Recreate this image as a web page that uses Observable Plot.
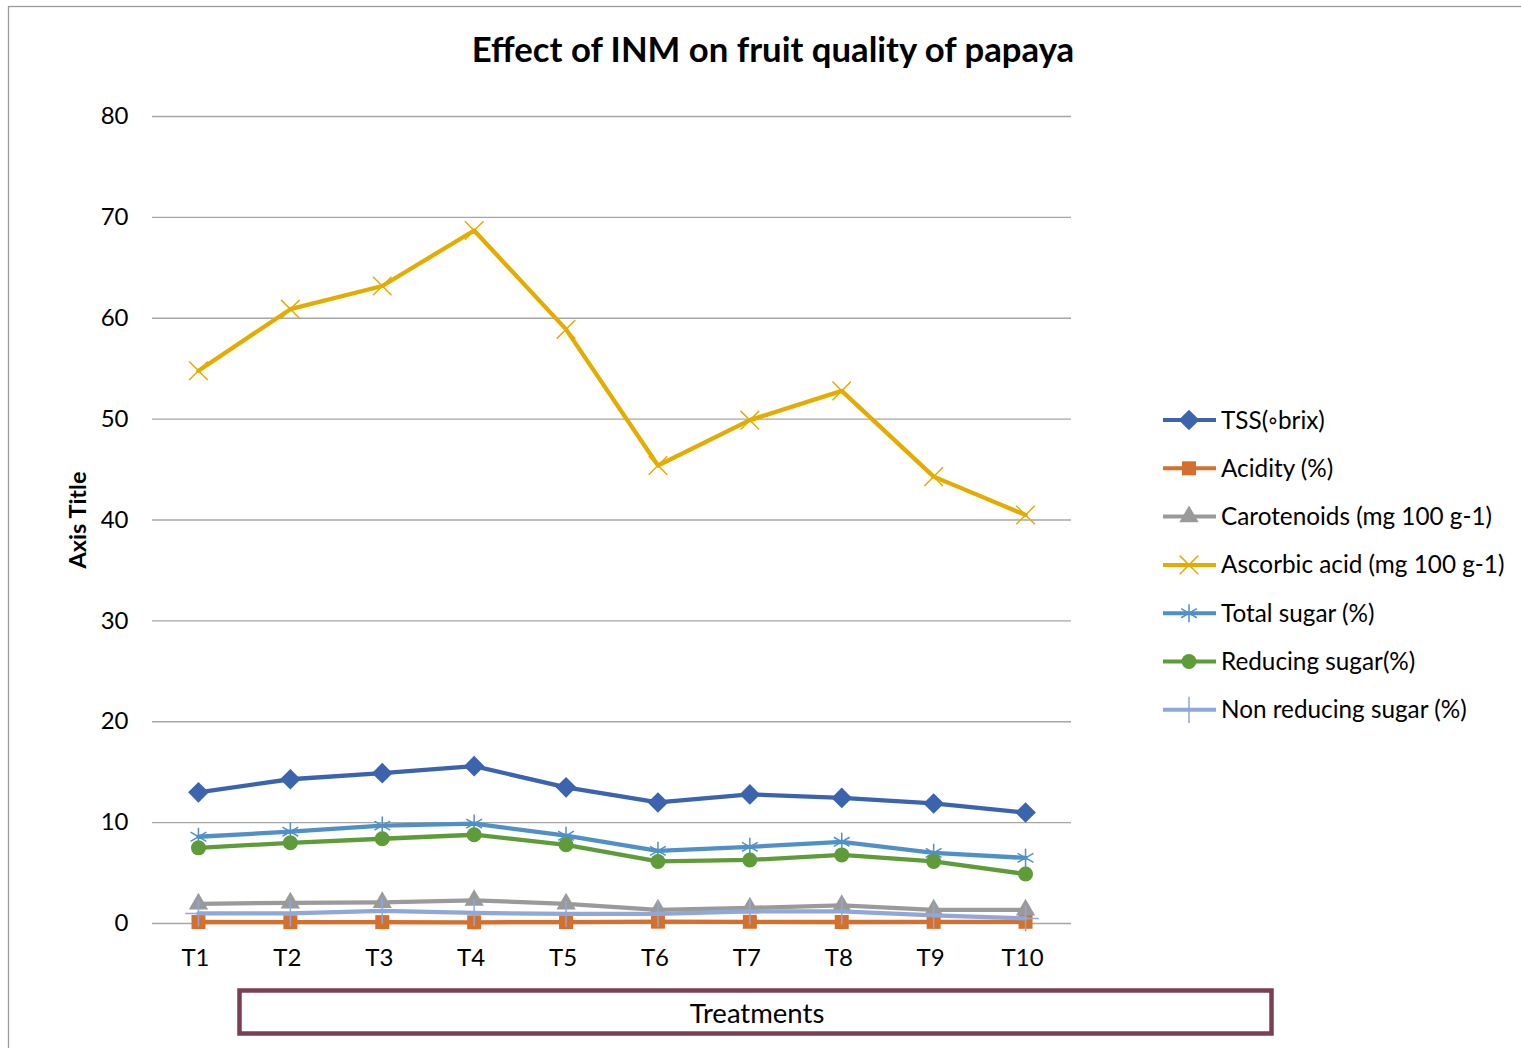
<!DOCTYPE html>
<html>
<head>
<meta charset="utf-8">
<script src="https://cdn.jsdelivr.net/npm/d3@7"></script>
<script src="https://cdn.jsdelivr.net/npm/@observablehq/plot@0.6"></script>
<style>
  html, body { margin: 0; padding: 0; background: #fff; }
  #chart svg { display: block; font-family: Lato, "Open Sans", sans-serif; }
</style>
</head>
<body>
<div id="chart"></div>
<script>
const treatments = ["T1","T2","T3","T4","T5","T6","T7","T8","T9","T10"];
const tss          = [13.0, 14.3, 14.9, 15.6, 13.5, 12.0, 12.8, 12.45, 11.9, 11.0];
const acidity      = [0.15, 0.13, 0.14, 0.12, 0.14, 0.18, 0.17, 0.15, 0.16, 0.17];
const carotenoids  = [1.95, 2.05, 2.1, 2.3, 1.95, 1.35, 1.55, 1.8, 1.35, 1.35];
const ascorbic     = [54.8, 60.9, 63.2, 68.7, 58.9, 45.4, 49.9, 52.8, 44.3, 40.5];
const totalSugar   = [8.6, 9.1, 9.7, 9.9, 8.7, 7.2, 7.6, 8.1, 7.0, 6.5];
const reducing     = [7.5, 8.0, 8.4, 8.8, 7.8, 6.15, 6.3, 6.8, 6.15, 4.9];
const nonReducing  = [1.0, 1.0, 1.25, 1.05, 0.95, 0.95, 1.2, 1.2, 0.8, 0.5];
const yTicks = [0, 10, 20, 30, 40, 50, 60, 70, 80];

const seriesNames = ["TSS(◦brix)", "Acidity (%)", "Carotenoids (mg 100 g-1)", "Ascorbic acid (mg 100 g-1)", "Total sugar (%)", "Reducing sugar(%)", "Non reducing sugar (%)"];
const seriesValues = [tss, acidity, carotenoids, ascorbic, totalSugar, reducing, nonReducing];
const seriesColors = ["#3B63AE", "#D5702C", "#9A9A9A", "#E5AC00", "#5090C8", "#5E9C39", "#8FA7D9"];
const seriesSymbols = ["diamond2", "square2", "triangle2", "times", "asterisk", "circle", "plus"];
const filledSymbol = [true, true, true, false, false, true, false];

const series = seriesNames.map((name, i) => ({
  name, color: seriesColors[i], symbol: seriesSymbols[i], filled: filledSymbol[i],
  data: treatments.map((t, j) => ({ t, v: seriesValues[i][j] }))
}));

const symR = { diamond2: 9.3, square2: 8.9, triangle2: 9.2, times: 8.5, asterisk: 8.6, circle: 7.5, plus: 8.5 };

const W = 1521, H = 1048;
const marks = [
  Plot.gridY(yTicks, { stroke: "#a6a6a6", strokeOpacity: 1, strokeWidth: 1.3 }),
  Plot.axisY(yTicks, { tickSize: 0, tickPadding: 24, fontSize: 24, label: null }),
  Plot.axisX({ tickSize: 0, tickPadding: 25, fontSize: 24, label: null, dx: -3 }),
  Plot.ruleX([0], { frameAnchor: "left", stroke: "#a6a6a6", strokeWidth: 1.3 })
];
for (const s of series) {
  marks.push(Plot.line(s.data, { x: "t", y: "v", stroke: s.color, strokeWidth: 4.3 }));
  marks.push(Plot.dot(s.data, s.filled
    ? { x: "t", y: "v", symbol: () => s.symbol, fill: s.color, stroke: "none", r: symR[s.symbol] }
    : { x: "t", y: "v", symbol: () => s.symbol, stroke: s.color, fill: "none", strokeWidth: 1.5, r: symR[s.symbol] }));
}

const chart = Plot.plot({
  width: W, height: H,
  marginLeft: 152, marginRight: W - 1071, marginTop: 116, marginBottom: H - 923,
  x: { type: "point", domain: treatments, padding: 0.5, round: false },
  y: { domain: [0, 80] },
  symbol: { type: "identity" },
  style: { fontFamily: "Lato, 'Open Sans', sans-serif", color: "#000", background: "#fff" },
  marks
});
document.getElementById("chart").appendChild(chart);

const svg = d3.select(chart);
// outer chart border
svg.insert("rect", ":first-child")
  .attr("x", 8.5).attr("y", 6.5).attr("width", W).attr("height", H)
  .attr("fill", "none").attr("stroke", "#9a9a9a").attr("stroke-width", 1.3);

// title
svg.append("text").attr("x", 773).attr("y", 62).attr("text-anchor", "middle")
  .attr("font-size", 34.7).attr("font-weight", "bold").attr("fill", "#000")
  .text("Effect of INM on fruit quality of papaya");

// y axis title
svg.append("text").attr("transform", "translate(86,520) rotate(-90)")
  .attr("text-anchor", "middle").attr("font-size", 23.5).attr("font-weight", "bold").attr("fill", "#000")
  .text("Axis Title");

// treatments box
svg.append("rect").attr("x", 239.5).attr("y", 990.5).attr("width", 1032).attr("height", 43)
  .attr("fill", "#fff").attr("stroke", "#7A3F52").attr("stroke-width", 4.5);
svg.append("text").attr("x", 757).attr("y", 1013).attr("dy", "0.35em").attr("text-anchor", "middle")
  .attr("font-size", 27.5).attr("fill", "#000").text("Treatments");

// legend
const lg = svg.append("g").attr("text-anchor", "start");
const sym = {
  diamond2: d3.symbolDiamond2, square2: d3.symbolSquare2, triangle2: d3.symbolTriangle2,
  times: d3.symbolTimes, asterisk: d3.symbolAsterisk, circle: d3.symbolCircle, plus: d3.symbolPlus
};
series.forEach((s, i) => {
  const y = 420 + i * 48.3;
  lg.append("line").attr("x1", 1163).attr("x2", 1216).attr("y1", y).attr("y2", y)
    .attr("stroke", s.color).attr("stroke-width", 4);
  const r = symR[s.symbol];
  const p = lg.append("path").attr("transform", `translate(1189,${y})`)
    .attr("d", d3.symbol(sym[s.symbol], Math.PI * r * r)());
  if (s.filled) p.attr("fill", s.color); else p.attr("fill", "none").attr("stroke", s.color).attr("stroke-width", 1.5);
  lg.append("text").attr("x", 1221).attr("y", y).attr("dy", "0.35em").attr("text-anchor", "start")
    .attr("font-size", 24.3).attr("fill", "#000").text(s.name);
});
</script>
</body>
</html>
